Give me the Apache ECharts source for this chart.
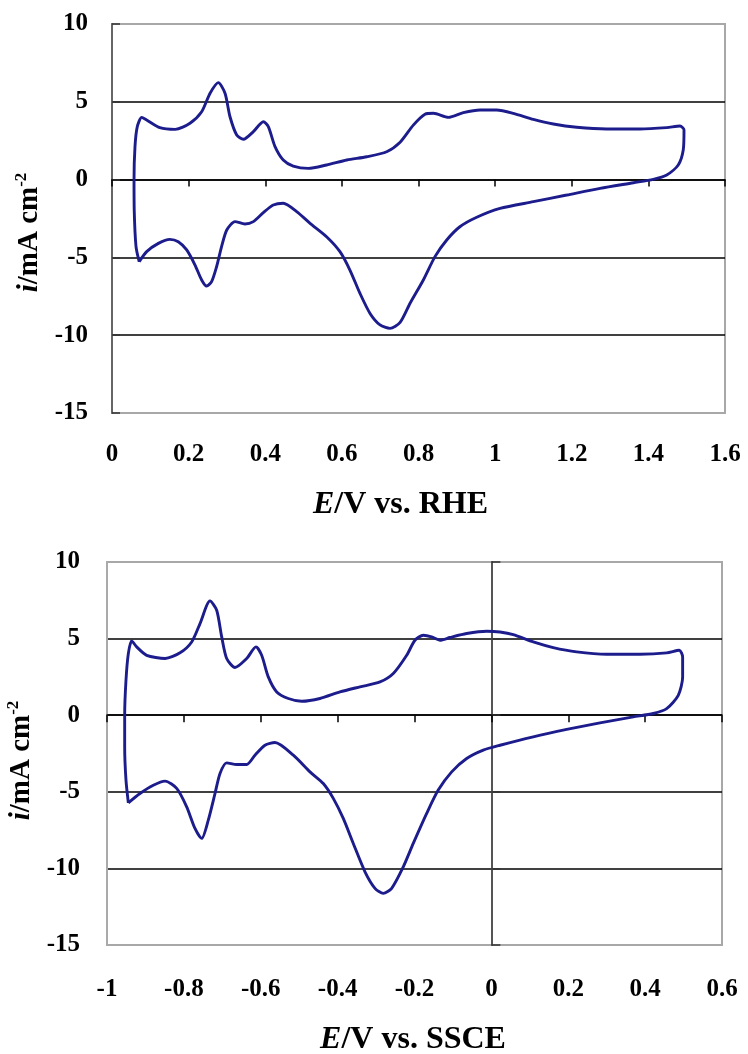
<!DOCTYPE html>
<html><head><meta charset="utf-8">
<script src="https://cdn.jsdelivr.net/npm/echarts@6/dist/echarts.min.js"></script>
<style>html,body{margin:0;padding:0;background:#fff}#c{width:748px;height:1054px}</style>
</head><body><div id="c"></div>
<script>
// ---- data ----
const rheE = [0.071,0.0627,0.058,0.0575,0.060,0.066,0.0775,0.0905,0.125,0.165,0.2035,0.234,0.256,0.2775,0.295,0.308,0.3255,0.343,0.369,0.395,0.408,0.4255,0.447,0.473,0.512,0.56,0.613,0.665,0.717,0.752,0.7865,0.817,0.839,0.878,0.917,0.9606,1.004,1.0475,1.0998,1.152,1.213,1.291,1.378,1.448,1.4826,1.493,1.491,1.478,1.448,1.413,1.361,1.274,1.187,1.0998,1.0128,0.952,0.908,0.8737,0.843,0.8126,0.778,0.752,0.7256,0.6996,0.6735,0.647,0.621,0.595,0.56,0.517,0.482,0.447,0.421,0.395,0.369,0.347,0.321,0.2995,0.286,0.273,0.260,0.247,0.234,0.2167,0.195,0.173,0.151,0.121,0.0905,0.071];
const rheI = [-5.28,-4.31,-1.95,0,2.11,3.4,4.0,3.83,3.34,3.23,3.62,4.36,5.55,6.23,5.55,4.04,2.87,2.59,3.08,3.72,3.4,2.12,1.26,0.87,0.72,0.94,1.26,1.47,1.79,2.4,3.5,4.2,4.26,4.0,4.3,4.47,4.47,4.26,3.87,3.57,3.36,3.25,3.25,3.34,3.44,3.19,1.9,0.94,0.3,0.02,-0.2,-0.56,-0.99,-1.42,-1.85,-2.42,-3.03,-3.88,-4.95,-6.45,-7.95,-9.18,-9.56,-9.34,-8.6,-7.3,-5.81,-4.63,-3.67,-2.81,-2.06,-1.52,-1.63,-2.12,-2.7,-2.85,-2.7,-3.24,-4.31,-5.6,-6.56,-6.84,-6.45,-5.49,-4.52,-3.99,-3.84,-4.1,-4.63,-5.28];
const ssceE = [-0.9445,-0.9506,-0.954,-0.954,-0.9506,-0.9445,-0.9358,-0.9228,-0.8968,-0.849,-0.81,-0.7797,-0.758,-0.732,-0.7146,-0.7016,-0.6886,-0.667,-0.6366,-0.6124,-0.5976,-0.5804,-0.5585,-0.5283,-0.4935,-0.4459,-0.3939,-0.3418,-0.2898,-0.2552,-0.2203,-0.1988,-0.1771,-0.1553,-0.1337,-0.1077,-0.0643,-0.0122,0.0224,0.057,0.109,0.161,0.2219,0.2999,0.3866,0.456,0.4888,0.4976,0.4976,0.4862,0.456,0.4212,0.3692,0.2825,0.1959,0.109,0.0224,-0.0211,-0.0643,-0.1033,-0.1382,-0.1683,-0.2032,-0.2292,-0.2594,-0.2812,-0.3028,-0.3288,-0.3593,-0.3853,-0.4113,-0.4373,-0.4719,-0.5153,-0.563,-0.589,-0.615,-0.6366,-0.6626,-0.6886,-0.706,-0.719,-0.7365,-0.7536,-0.7711,-0.7927,-0.8187,-0.8491,-0.8795,-0.9142,-0.9445];
const ssceI = [-5.72,-4.24,-2.07,0,2.28,4.02,4.85,4.46,3.91,3.7,4.07,4.78,5.98,7.46,6.85,5.11,3.7,3.11,3.7,4.46,3.91,2.5,1.52,1.09,0.91,1.09,1.52,1.85,2.17,2.72,3.91,4.89,5.22,5.11,4.89,5.07,5.33,5.48,5.43,5.26,4.78,4.41,4.13,3.98,3.98,4.07,4.24,3.8,2.5,1.3,0.43,0.11,-0.11,-0.5,-0.93,-1.41,-1.96,-2.28,-2.83,-3.7,-4.89,-6.41,-8.37,-9.9,-11.3,-11.63,-11.3,-10.22,-8.37,-6.74,-5.43,-4.46,-3.7,-2.61,-1.78,-1.96,-2.61,-3.22,-3.22,-3.11,-3.8,-5.11,-6.85,-8.04,-7.39,-5.98,-4.78,-4.3,-4.57,-5.11,-5.72];
const rheTicks = [0,0.2,0.4,0.6,0.8,1,1.2,1.4,1.6];
const ssceTicks = [-1,-0.8,-0.6,-0.4,-0.2,0,0.2,0.4,0.6];
const iTicks = [-15,-10,-5,0,5,10];
const xTitleTop = '{e|E}{n|/V vs. RHE}';
const xTitleBottom = '{e|E}{n|/V vs. SSCE}';
const yTitle = '{i|i}{n|/mA cm}{s|-2}';

// ---- chart ----
const FONT = "'Liberation Serif','Times New Roman',serif";
const labelStyle = {color:'#000', fontFamily:FONT, fontWeight:'bold', fontSize:25};
const tBase = {color:'#000', fontFamily:FONT, fontWeight:'bold', fontSize:32, lineHeight:34};
const xRich = {e:Object.assign({}, tBase, {fontStyle:'italic'}), n:Object.assign({}, tBase)};
const yRich = {i:Object.assign({}, tBase, {fontStyle:'italic', fontSize:29, lineHeight:32}), n:Object.assign({}, tBase, {fontSize:29, lineHeight:32}),
               s:{color:'#000', fontFamily:FONT, fontWeight:'bold', fontSize:17, verticalAlign:'top', lineHeight:32}};
const borderGray = '#a8a8a8';
const splitColors = iTicks.map((t,k) => (k === 0 || k === iTicks.length - 1) ? borderGray : '#000');
const zip = (a, b) => a.map((v, k) => [v, b[k]]);
const step = a => +(a[1] - a[0]).toFixed(6);
const lineColor = '#1c1c8c';

function xPair(grid, ticks, title, gap, pad, margin) {
  const base = {gridIndex:grid, type:'value', min:ticks[0], max:ticks[ticks.length-1], interval:step(ticks), position:'bottom'};
  return [
    Object.assign({}, base, {
      axisLine:{show:false, onZero:false}, axisTick:{show:false}, splitLine:{show:false},
      axisLabel:Object.assign({}, labelStyle, {margin:margin, showMinLabel:true, showMaxLabel:true}),
      name:title, nameLocation:'middle', nameGap:gap,
      nameTextStyle:{rich:xRich, padding:pad}
    }),
    Object.assign({}, base, {
      axisLine:{show:true, onZero:true, lineStyle:{color:'#000', width:1.5}},
      axisTick:{show:true, length:7, lineStyle:{color:'#000', width:1.5}},
      axisLabel:{show:false}, splitLine:{show:false}
    })
  ];
}
const yBase = grid => ({gridIndex:grid, type:'value', min:iTicks[0], max:iTicks[iTicks.length-1], interval:step(iTicks), position:'left'});

const chart = echarts.init(document.getElementById('c'), null, {renderer:'canvas'});
chart.setOption({
  animation:false,
  backgroundColor:'#fff',
  grid:[
    {left:112, top:24, width:613, height:389, show:true, borderColor:borderGray, borderWidth:2, outerBoundsMode:'none'},
    {left:107, top:562, width:615, height:383, show:true, borderColor:borderGray, borderWidth:2, outerBoundsMode:'none'}
  ],
  xAxis: [].concat(
    xPair(0, rheTicks, xTitleTop, 75, [0,36,0,0], 29),
    xPair(1, ssceTicks, xTitleBottom, 78, [0,3,0,0], 32)
  ),
  yAxis:[
    Object.assign(yBase(0), {
      axisLine:{show:true, onZero:false, lineStyle:{color:'#666', width:2}},
      axisTick:{show:true, inside:true, length:8, lineStyle:{color:'#333', width:1.5}},
      axisLabel:Object.assign({}, labelStyle, {margin:24, showMinLabel:true, showMaxLabel:true}),
      splitLine:{show:true, lineStyle:{color:splitColors, width:1.5}},
      name:yTitle, nameLocation:'middle', nameRotate:90, nameGap:66,
      nameTextStyle:{rich:yRich, padding:[0,28,0,0]}
    }),
    Object.assign(yBase(1), {
      axisLine:{show:true, onZero:false, lineStyle:{color:'#aaa', width:2}},
      axisTick:{show:false},
      axisLabel:Object.assign({}, labelStyle, {margin:27, showMinLabel:true, showMaxLabel:true}),
      splitLine:{show:true, lineStyle:{color:splitColors, width:1.5}},
      name:yTitle, nameLocation:'middle', nameRotate:90, nameGap:63,
      nameTextStyle:{rich:yRich, padding:[0,14,0,0]}
    }),
    Object.assign(yBase(1), {
      axisLine:{show:true, onZero:true, lineStyle:{color:'#555', width:2}},
      axisTick:{show:true, inside:true, length:9, lineStyle:{color:'#333', width:1.5}},
      axisLabel:{show:false}, splitLine:{show:false}
    })
  ],
  series:[
    {type:'line', xAxisIndex:0, yAxisIndex:0, data:zip(rheE, rheI), showSymbol:false, smooth:0.25,
     lineStyle:{color:lineColor, width:2.9}, z:5},
    {type:'line', xAxisIndex:2, yAxisIndex:1, data:zip(ssceE, ssceI), showSymbol:false, smooth:0.25,
     lineStyle:{color:lineColor, width:2.9}, z:5}
  ]
});
</script></body></html>
